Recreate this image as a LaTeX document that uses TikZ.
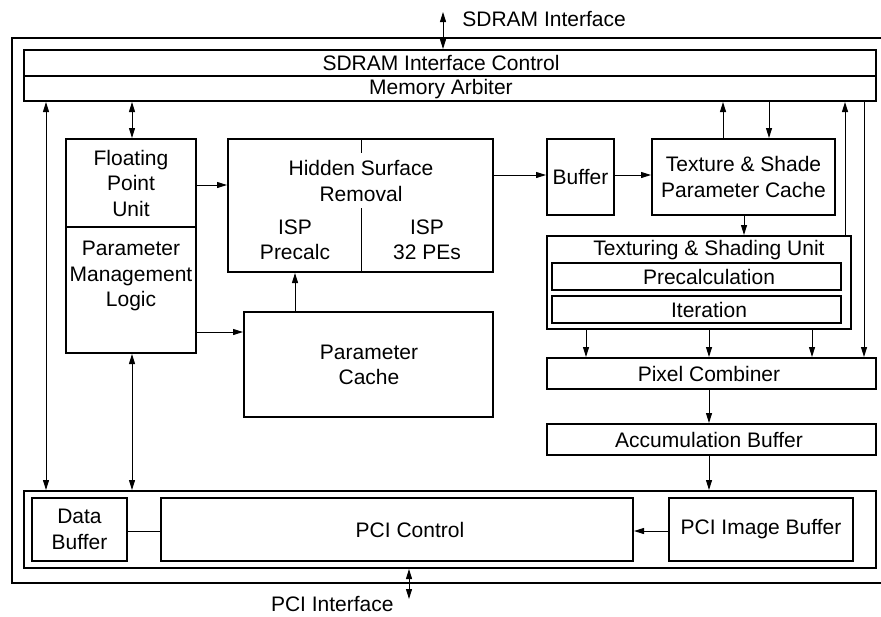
\documentclass[tikz,border=0pt]{standalone}
\usepackage{fontspec}
\setmainfont{Liberation Sans}
\usetikzlibrary{shapes, arrows.meta, positioning, calc, fit}

\tikzset{
    blk/.style={draw, line width=1pt, inner sep=0pt},
    txt/.style={inner sep=0pt, align=center},
    lnk/.style={line width=0.5pt, -{Triangle[length=5pt,width=3pt]}},
    lnkb/.style={line width=0.5pt, {Triangle[length=5pt,width=3pt]}-{Triangle[length=5pt,width=3pt]}},
}

\begin{document}
\begin{tikzpicture}[x=0.5pt, y=-0.5pt, font=\fontsize{10.5}{12.75}\selectfont]
    \useasboundingbox (0,0) rectangle (881,616);

    % Chip frame (right side runs off the page)
    \draw[line width=1pt] (881,38) -- (12,38) -- (12,583) -- (881,583);

    % SDRAM control and arbiter
    \node[blk, fit={(24,50) (876,76)}] (sdram) {};
    \node[txt] (sdramtxt) at (441,63) {SDRAM Interface Control};
    \node[blk, fit={(24,76) (876,101)}] (arb) {};
    \node[txt] (arbtxt) at (441,89) {Memory Arbiter};

    % Geometry front end
    \node[blk, fit={(66,139) (196,227)}] (fpu) {};
    \node[txt] (fputxt) at (fpu.center) {Floating\\Point\\Unit};
    \node[blk, fit={(66,227) (196,353)}] (pml) {};
    \node[txt] (pmltxt) at (131,276) {Parameter\\Management\\Logic};

    % Hidden surface removal
    \node[blk, fit={(228,139) (493,272)}] (hsr) {};
    \node[txt] (hsrtxt) at (361,181) {Hidden Surface\\Removal};
    \node[txt] (isppre) at (295,240) {ISP\\Precalc};
    \node[txt] (isppe) at (427,240) {ISP\\32 PEs};
    \draw[line width=0.5pt] (hsr.north -| 361,0) -- (361,153);
    \draw[line width=0.5pt] (361,208) -- (hsr.south -| 361,0);
    \node[blk, fit={(244,312) (493,417)}] (pcache) {};
    \node[txt] (pcachetxt) at (369,365) {Parameter\\Cache};

    % Texturing path
    \node[blk, fit={(547,139) (614,215)}] (buf) {};
    \node[txt] (buftxt) at (buf.center) {Buffer};
    \node[blk, fit={(652,139) (835,215)}] (tspc) {};
    \node[txt] (tspctxt) at (tspc.center) {Texture \& Shade\\Parameter Cache};
    \node[blk, fit={(547,236) (851,329)}] (tsu) {};
    \node[txt] (tsutxt) at (709,250) {Texturing \& Shading Unit};
    \node[blk, fit={(552,263) (841,290)}] (pre) {};
    \node[txt] (pretxt) at (709,277) {Precalculation};
    \node[blk, fit={(552,296) (841,323)}] (iter) {};
    \node[txt] (itertxt) at (709,310) {Iteration};
    \node[blk, fit={(547,358) (876,389)}] (pix) {};
    \node[txt] (pixtxt) at (709,374) {Pixel Combiner};
    \node[blk, fit={(547,424) (876,455)}] (acc) {};
    \node[txt] (acctxt) at (709,440) {Accumulation Buffer};

    % PCI block
    \node[blk, fit={(24,491) (876,568)}] (pcibox) {};
    \node[blk, fit={(32,498) (127,561)}] (dbuf) {};
    \node[txt] (dbuftxt) at (dbuf.center) {Data\\Buffer};
    \node[blk, fit={(161,498) (633,561)}] (pcictl) {};
    \node[txt] (pcitxt) at (410,530) {PCI Control};
    \node[blk, fit={(669,498) (853,561)}] (pciimg) {};
    \node[txt] (pciimgtxt) at (pciimg.center) {PCI Image Buffer};

    % External interfaces
    \coordinate (sdramif) at (443,12);
    \node[txt, anchor=base west] (sdramlbl) at (462,26) {SDRAM Interface};
    \coordinate (pciif) at (409,599);
    \node[txt, anchor=base east] (pcilbl) at (394,611) {PCI Interface};
    \draw[lnkb] (sdramif) -- (sdramif |- sdram.north);
    \draw[lnkb] (pcibox.south -| pciif) -- (pciif);

    % Connections
    \draw[lnkb] (arb.south -| 46,0) -- (pcibox.north -| 46,0);
    \draw[lnkb] (arb.south -| 132,0) -- (fpu.north -| 132,0);
    \draw[lnkb] (pml.south -| 132,0) -- (pcibox.north -| 132,0);
    \draw[lnk] (fpu.east |- 0,185) -- (hsr.west |- 0,185);
    \draw[lnk] (pml.east |- 0,332) -- (pcache.west |- 0,332);
    \draw[lnk] (pcache.north -| 295,0) -- (hsr.south -| 295,0);
    \draw[lnk] (hsr.east |- 0,175) -- (buf.west |- 0,175);
    \draw[lnk] (buf.east |- 0,175) -- (tspc.west |- 0,175);
    \draw[lnk] (tspc.north -| 723,0) -- (arb.south -| 723,0);
    \draw[lnk] (arb.south -| 769,0) -- (tspc.north -| 769,0);
    \draw[lnk] (tsu.north -| 845,0) -- (arb.south -| 845,0);
    \draw[lnk] (arb.south -| 864,0) -- (pix.north -| 864,0);
    \draw[lnk] (tspc.south -| 744,0) -- (tsu.north -| 744,0);
    \foreach \x in {586,709,812}
        \draw[lnk] (tsu.south -| \x,0) -- (pix.north -| \x,0);
    \draw[lnk] (pix.south -| 709,0) -- (acc.north -| 709,0);
    \draw[lnk] (acc.south -| 709,0) -- (pcibox.north -| 709,0);
    \draw[line width=0.5pt] (dbuf.east |- 0,531) -- (pcictl.west |- 0,531);
    \draw[lnk] (pciimg.west |- 0,531) -- (pcictl.east |- 0,531);
\end{tikzpicture}
\end{document}
